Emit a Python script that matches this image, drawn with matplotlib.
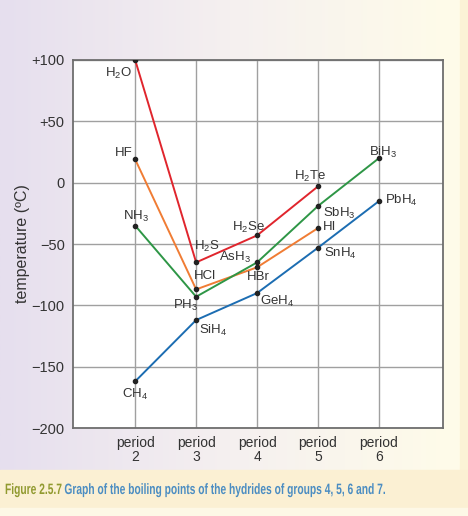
import numpy as np
import matplotlib
matplotlib.use("Agg")
import matplotlib.pyplot as plt
from matplotlib.colors import LinearSegmentedColormap
from matplotlib.textpath import TextPath
from matplotlib.font_manager import FontProperties
from matplotlib.patches import PathPatch
from matplotlib.transforms import Affine2D

plt.rcParams['font.family'] = ['Liberation Sans', 'DejaVu Sans']
plt.rcParams['mathtext.default'] = 'regular'

# boiling points (°C) of the hydrides
periods = [2, 3, 4, 5, 6]
group4 = [-162, -112, -90, -53, -15]
group5 = [-35, -93, -65, -19, 20]
group6 = [100, -65, -43, -3]
group7 = [19, -87, -69, -37]

names4 = ['CH$_4$', 'SiH$_4$', 'GeH$_4$', 'SnH$_4$', 'PbH$_4$']
names5 = ['NH$_3$', 'PH$_3$', 'AsH$_3$', 'SbH$_3$', 'BiH$_3$']
names6 = ['H$_2$O', 'H$_2$S', 'H$_2$Se', 'H$_2$Te']
names7 = ['HF', 'HCl', 'HBr', 'HI']

yticks = [100, 50, 0, -50, -100, -150, -200]
ytick_labels = ['+100', '+50', '0', '\u221250', '\u2212100', '\u2212150', '\u2212200']
xtick_labels = ['period\n2', 'period\n3', 'period\n4', 'period\n5', 'period\n6']

caption_num = 'Figure 2.5.7'
caption_text = ' Graph of the boiling points of the hydrides of groups 4, 5, 6 and 7.'

# label offsets in pixels (dx, dy), ha
off4 = [((0, -13), 'center'), ((3, -10), 'left'), ((3, -8), 'left'), ((6, -6), 'left'), ((6, 1), 'left')]
off5 = [((1, 9), 'center'), ((-10, -9), 'center'), ((-6, 5), 'right'), ((5, -7), 'left'), ((4, 6), 'center')]
off6 = [((-17, -13), 'center'), ((11, 16), 'center'), ((-9, 8), 'center'), ((-8, 10), 'center')]
off7 = [((-11, 6), 'center'), ((9, 13), 'center'), ((1, -10), 'center'), ((5, 1), 'left')]

W, H = 468, 516
fig = plt.figure(figsize=(W / 100, H / 100), dpi=100)

# background panels
bg = fig.add_axes([0, 0, 1, 1], zorder=-10)
bg.set_xlim(0, W)
bg.set_ylim(H, 0)
bg.axis('off')
grad = LinearSegmentedColormap.from_list('bg', ['#e6dfee', '#f5f0f0', '#fffce9'])
bg.imshow(np.linspace(0, 1, 256)[None, :], cmap=grad, aspect='auto',
          extent=(0, 460, 470, 0))
bg.add_patch(plt.Rectangle((460, 0), 8, 470, color='#fbf3d6'))
bg.add_patch(plt.Rectangle((0, 470), W, 38, color='#fbf0d3'))
bg.add_patch(plt.Rectangle((0, 508), W, 8, color='#fdf8e6'))

ax = fig.add_axes([73 / W, 1 - 428 / H, 370 / W, 368 / H])
ax.set_facecolor('white')
ax.set_xlim(0.98, 7.05)
ax.set_ylim(-200, 100)
ax.set_yticks(yticks)
ax.set_yticklabels(ytick_labels, fontsize=10.5, color='#333333')
ax.set_xticks(periods)
ax.set_xticklabels(xtick_labels, fontsize=10, color='#333333', linespacing=1.0)
ax.tick_params(length=0, pad=6)
ax.grid(True, color='#a0a0a0', linewidth=1.0)
ax.set_axisbelow(True)
for s in ax.spines.values():
    s.set_color('#6e6e6e')
    s.set_linewidth(1.3)
ax.set_ylabel('temperature (ºC)', fontsize=11.5, color='#333333', labelpad=1)

series = [
    (group6, names6, off6, '#e0252d'),
    (group7, names7, off7, '#f07c34'),
    (group5, names5, off5, '#2e9646'),
    (group4, names4, off4, '#1c6db2'),
]
for vals, names, offs, col in series:
    xs = periods[:len(vals)]
    ax.plot(xs, vals, color=col, linewidth=1.4, zorder=3)
    ax.plot(xs, vals, 'o', color='#222222', markersize=3, zorder=4)
    for x, v, n, (d, ha) in zip(xs, vals, names, offs):
        ax.annotate(n, (x, v), xytext=d, textcoords='offset pixels',
                    ha=ha, va='center', fontsize=9.5, color='#333333', zorder=5)

# caption in a condensed look: text paths squeezed horizontally
prop = FontProperties(family='Liberation Sans', weight='bold')
p1 = TextPath((0, 0), caption_num, size=15, prop=prop)
p2 = TextPath((0, 0), caption_text, size=15, prop=prop)
w1 = p1.get_extents().x1
w2 = p2.get_extents().x1
sx = 380 / (w1 + w2)
base = H - 494
fig.add_artist(PathPatch(p1, transform=Affine2D().scale(sx, 1).translate(5, base),
                         facecolor='#919a30', edgecolor='none'))
fig.add_artist(PathPatch(p2, transform=Affine2D().scale(sx, 1).translate(5 + w1 * sx, base),
                         facecolor='#4b8dc2', edgecolor='none'))

fig.savefig('out.png', dpi=100)
